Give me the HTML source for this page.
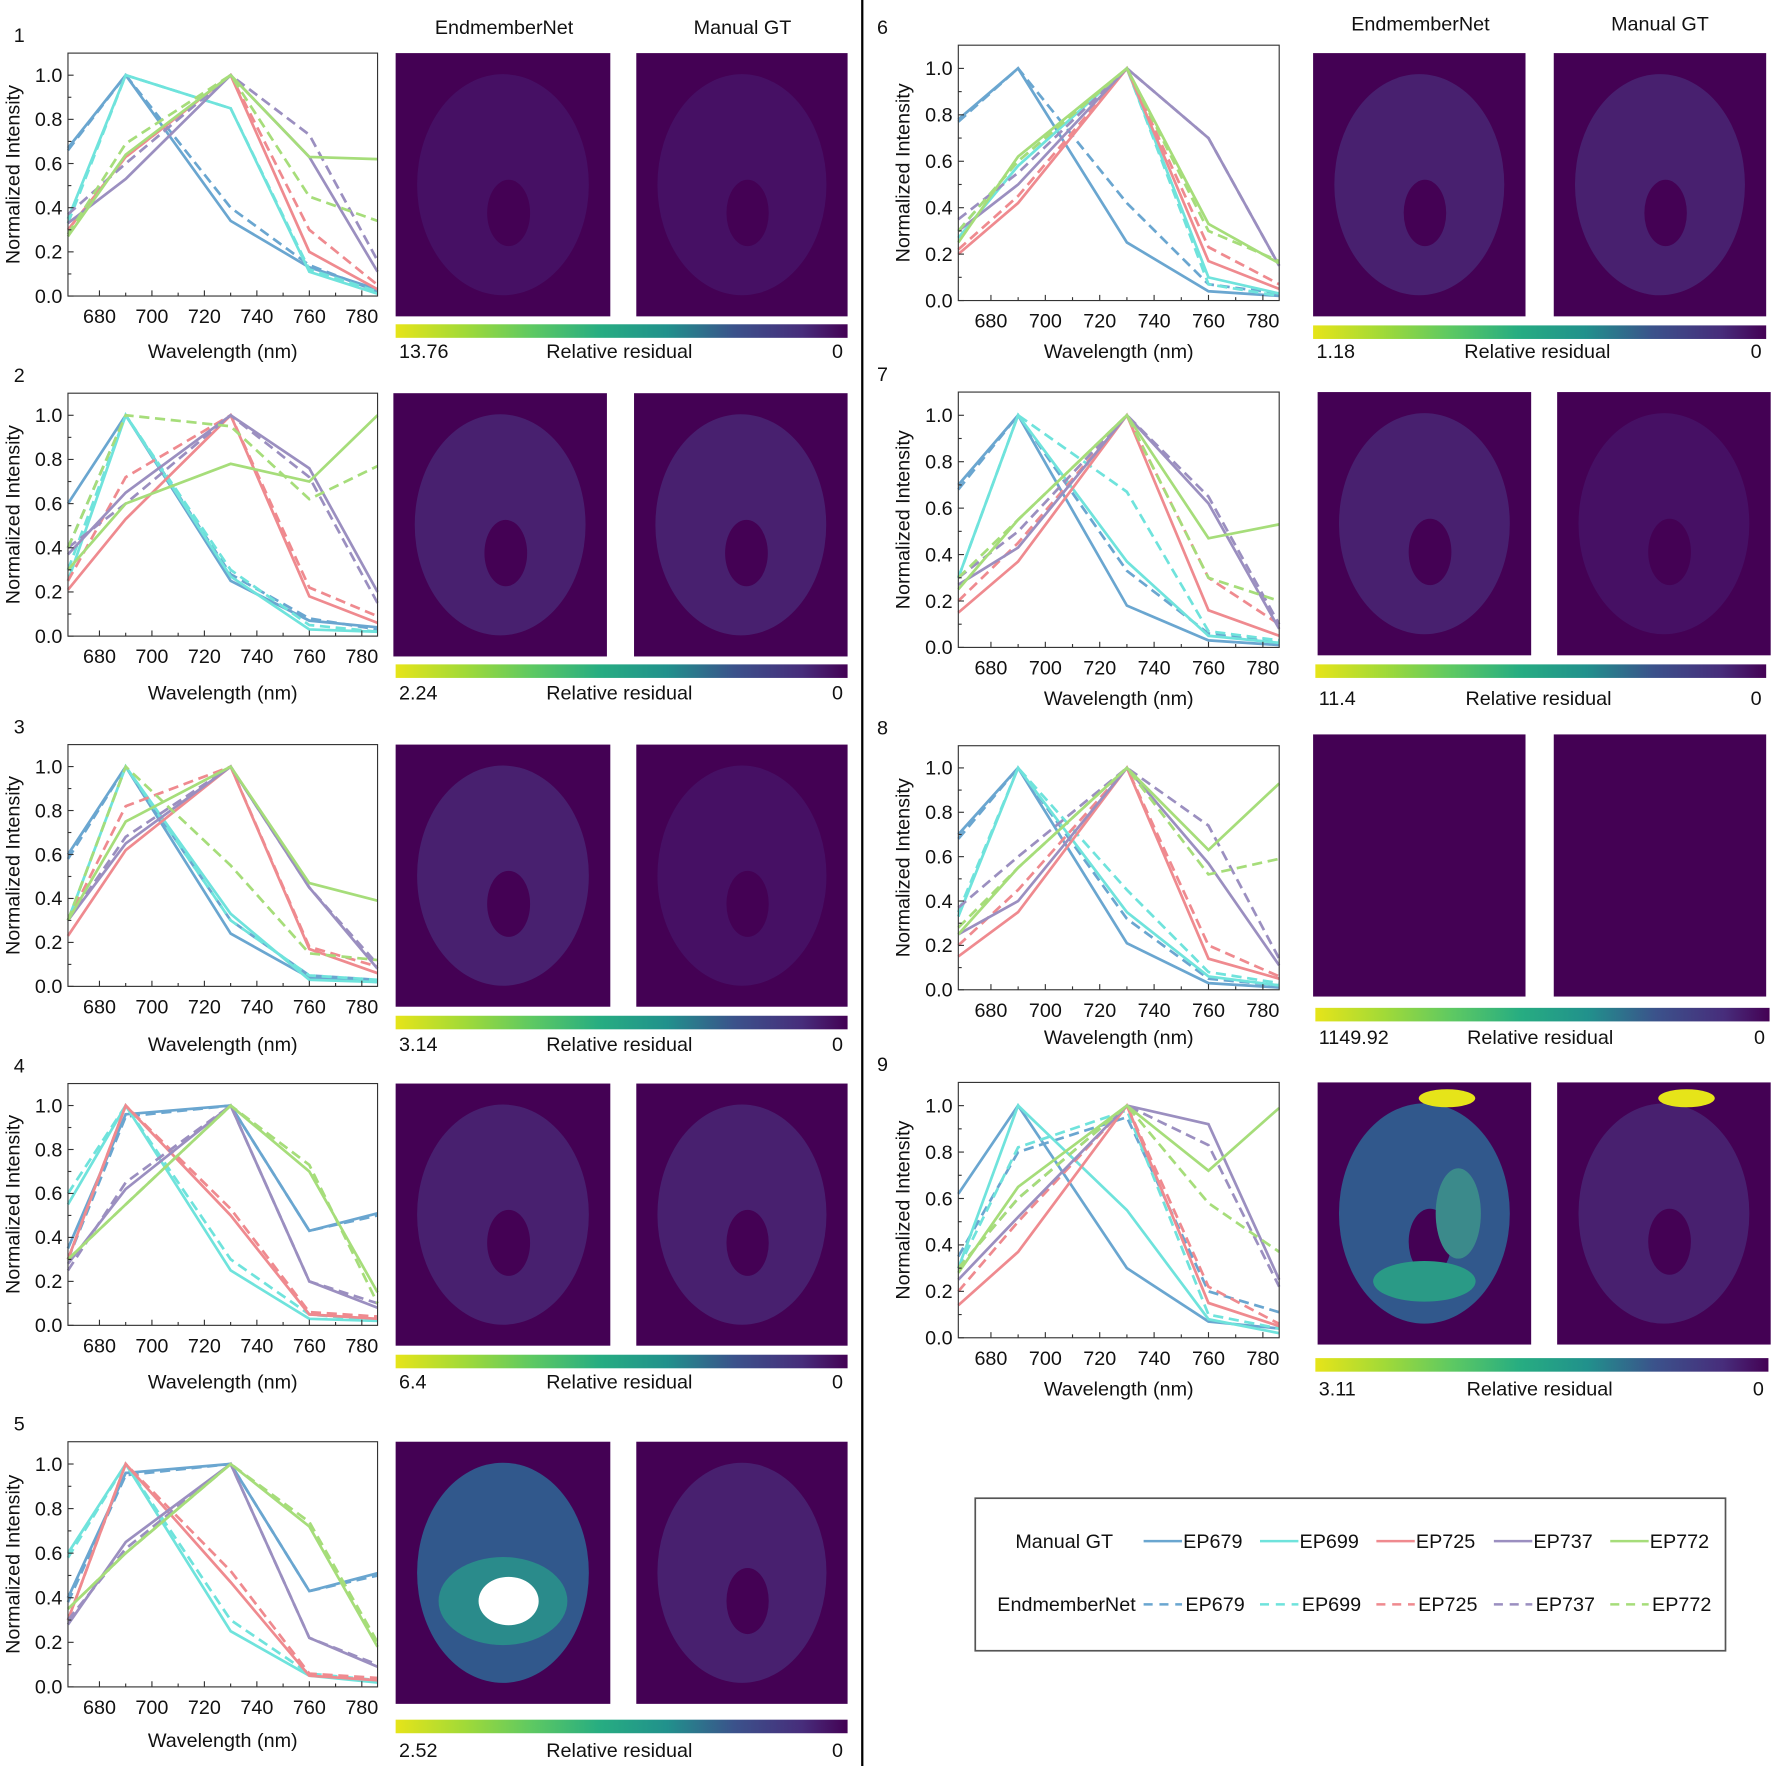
<!DOCTYPE html>
<html><head><meta charset="utf-8"><style>
html,body{margin:0;padding:0;background:#fff}
svg{display:block}
text{font-family:"Liberation Sans",Arial,sans-serif;fill:#111}
</style></head><body>
<svg id="s" xmlns="http://www.w3.org/2000/svg" width="1772" height="1766" viewBox="0 0 1568 1563">
<defs>
<linearGradient id="vir" x1="0" x2="1" y1="0" y2="0">
<stop offset="0" stop-color="#e6e419"/><stop offset="0.15" stop-color="#a2da37"/><stop offset="0.3" stop-color="#5ec962"/><stop offset="0.45" stop-color="#27ad81"/><stop offset="0.6" stop-color="#21918c"/><stop offset="0.75" stop-color="#3b528b"/><stop offset="0.9" stop-color="#472d7b"/><stop offset="1" stop-color="#440154"/>
</linearGradient>
</defs>
<rect width="1568" height="1563" fill="#fff"/>
<line x1="763" y1="0" x2="763" y2="1563" stroke="#000" stroke-width="2"/>
<g id="g"></g>
</svg>
<script>
const C=["#6aa6d0","#6fe3dc","#ef8a8f","#9b8fc0","#a6dd7a"];
const W=[668,690,730,760,786];
const P=[
{n:"1",x0:60,x1:334,t:47,b:262,ix:[350,540,563,750],it:47,ib:280,cb:287,cx:[350,750],lab:311,v:"13.76",
s:[[.67,1,.34,.13,.03],[.35,1,.85,.11,.01],[.3,.63,1,.2,.03],[.33,.53,1,.63,.11],[.27,.64,1,.63,.62]],
d:[[.66,1,.4,.14,.02],[.33,1,.85,.12,.02],[.3,.63,1,.3,.05],[.37,.6,1,.73,.16],[.28,.69,1,.45,.34]],lvl:[.05,.05]},
{n:"2",x0:60,x1:334,t:348,b:563,ix:[348,537,561,750],it:348,ib:581,cb:588,cx:[350,750],lab:613,v:"2.24",
s:[[.6,1,.25,.07,.04],[.25,1,.27,.03,.02],[.21,.53,1,.18,.06],[.37,.65,1,.76,.2],[.3,.6,.78,.7,1]],
d:[[.4,1,.28,.08,.03],[.3,1,.3,.05,.02],[.25,.72,1,.22,.09],[.4,.6,1,.72,.15],[.4,1,.95,.62,.77]],lvl:[.25,.2]},
{n:"3",x0:60,x1:334,t:659,b:873,ix:[350,540,563,750],it:659,ib:891,cb:899,cx:[350,750],lab:924,v:"3.14",
s:[[.6,1,.24,.04,.02],[.3,1,.33,.03,.02],[.23,.62,1,.17,.06],[.3,.65,1,.45,.08],[.3,.75,1,.47,.39]],
d:[[.58,1,.3,.05,.03],[.3,1,.3,.05,.03],[.3,.82,1,.18,.09],[.3,.68,1,.45,.1],[.3,1,.55,.15,.12]],lvl:[.2,.15]},
{n:"4",x0:60,x1:334,t:959,b:1173,ix:[350,540,563,750],it:959,ib:1191,cb:1199,cx:[350,750],lab:1223,v:"6.4",
s:[[.35,.96,1,.43,.51],[.55,1,.25,.03,.02],[.3,1,.5,.05,.03],[.28,.62,1,.2,.08],[.3,.55,1,.7,.15]],
d:[[.3,.95,1,.43,.5],[.6,1,.3,.05,.02],[.3,1,.53,.06,.04],[.25,.65,1,.2,.1],[.3,.55,1,.73,.1]],lvl:[.22,.2]},
{n:"5",x0:60,x1:334,t:1276,b:1493,ix:[350,540,563,750],it:1276,ib:1508,cb:1522,cx:[350,750],lab:1549,xl:1540,v:"2.52",
s:[[.4,.96,1,.43,.51],[.6,1,.25,.05,.02],[.3,1,.47,.05,.03],[.28,.65,1,.22,.09],[.35,.6,1,.72,.18]],
d:[[.38,.95,1,.43,.5],[.58,1,.3,.06,.03],[.3,1,.52,.06,.04],[.3,.62,1,.22,.1],[.35,.6,1,.74,.2]],lvl:[.6,.2]},
{n:"6",x0:848,x1:1132,t:40,b:266,ix:[1162,1350,1375,1563],it:47,ib:280,cb:288,cx:[1162,1563],lab:311,v:"1.18",
s:[[.78,1,.25,.04,.02],[.27,.58,1,.1,.03],[.2,.42,1,.17,.05],[.3,.5,1,.7,.15],[.25,.62,1,.33,.16]],
d:[[.77,1,.42,.07,.03],[.3,.6,1,.07,.02],[.22,.45,1,.23,.07],[.35,.55,1,.7,.15],[.3,.6,1,.3,.17]],lvl:[.18,.18]},
{n:"7",x0:848,x1:1132,t:347,b:573,ix:[1166,1355,1378,1567],it:347,ib:580,cb:588,cx:[1164,1563],lab:618,v:"11.4",
s:[[.7,1,.18,.03,.01],[.3,1,.37,.05,.02],[.15,.37,1,.16,.05],[.27,.43,1,.62,.08],[.25,.55,1,.47,.53]],
d:[[.68,1,.33,.06,.02],[.3,1,.67,.07,.03],[.2,.45,1,.3,.1],[.3,.5,1,.65,.1],[.3,.55,1,.3,.2]],lvl:[.18,.05]},
{n:"8",x0:848,x1:1132,t:660,b:876,ix:[1162,1350,1375,1563],it:650,ib:882,cb:892,cx:[1164,1566],lab:918,v:"1149.92",
s:[[.7,1,.21,.03,.01],[.33,1,.35,.06,.02],[.15,.35,1,.14,.05],[.25,.4,1,.57,.11],[.25,.55,1,.63,.93]],
d:[[.68,1,.32,.05,.02],[.35,1,.45,.08,.03],[.2,.45,1,.2,.06],[.37,.6,1,.74,.14],[.28,.55,1,.52,.59]],lvl:[0,0]},
{n:"9",x0:848,x1:1132,t:958,b:1184,ix:[1166,1355,1378,1567],it:958,ib:1190,cb:1202,cx:[1164,1565],lab:1229,v:"3.11",
s:[[.62,1,.3,.07,.04],[.3,1,.55,.08,.02],[.14,.37,1,.15,.05],[.25,.52,1,.92,.25],[.28,.65,1,.72,.99]],
d:[[.35,.8,.95,.2,.11],[.3,.82,.98,.1,.04],[.2,.5,1,.22,.06],[.3,.6,1,.83,.22],[.3,.6,1,.58,.37]],lvl:[.75,.2]}
];
let h="";
const FS=17.5;
P.forEach(p=>{
 const X=w=>p.x0+(w-668)/(786-668)*(p.x1-p.x0);
 const Y=v=>p.b-v/1.1*(p.b-p.t);
 const left=p.x0<500;
 h+=`<text x="${left?12:776}" y="${p.t-10}" font-size="${FS}">${p.n}</text>`;
 for(let k=0;k<5;k++){
  const sp=p.s[k].map((v,i)=>X(W[i]).toFixed(1)+","+Y(v).toFixed(1)).join(" ");
  const dp=p.d[k].map((v,i)=>X(W[i]).toFixed(1)+","+Y(v).toFixed(1)).join(" ");
  h+=`<polyline points="${dp}" fill="none" stroke="${C[k]}" stroke-width="2.4" stroke-dasharray="9,5"/>`;
  h+=`<polyline points="${sp}" fill="none" stroke="${C[k]}" stroke-width="2.4"/>`;
 }
 h+=`<rect x="${p.x0}" y="${p.t}" width="${p.x1-p.x0}" height="${p.b-p.t}" fill="none" stroke="#333" stroke-width="1"/>`;
 for(let w=680;w<=780;w+=20){const x=X(w);h+=`<line x1="${x}" y1="${p.b}" x2="${x}" y2="${p.b-5}" stroke="#333"/><text x="${x}" y="${p.b+24}" font-size="${FS}" text-anchor="middle">${w}</text>`;}
 for(let w=690;w<=770;w+=20){const x=X(w);h+=`<line x1="${x}" y1="${p.b}" x2="${x}" y2="${p.b-3}" stroke="#333"/>`;}
 for(let v=0;v<=10;v+=2){const y=Y(v/10);h+=`<line x1="${p.x0}" y1="${y}" x2="${p.x0+5}" y2="${y}" stroke="#333"/><text x="${p.x0-5}" y="${y+6}" font-size="${FS}" text-anchor="end">${(v/10).toFixed(1)}</text>`;}
 for(let v=1;v<=9;v+=2){const y=Y(v/10);h+=`<line x1="${p.x0}" y1="${y}" x2="${p.x0+3}" y2="${y}" stroke="#333"/>`;}
 const cy=(p.t+p.b)/2;
 h+=`<text transform="translate(${p.x0-43},${cy}) rotate(-90)" font-size="${FS}" text-anchor="middle">Normalized Intensity</text>`;
 h+=`<text x="${(p.x0+p.x1)/2}" y="${(p.xl||p.lab)+6}" font-size="${FS}" text-anchor="middle">Wavelength (nm)</text>`;
 [[p.ix[0],p.ix[1],p.lvl[0],0],[p.ix[2],p.ix[3],p.lvl[1],1]].forEach(([a,b,l,j])=>{
  h+=`<rect x="${a}" y="${p.it}" width="${b-a}" height="${p.ib-p.it}" fill="#440154"/>`;
  if(l>0){
   const cx=(a+b)/2, cyy=(p.it+p.ib)/2, rw=(b-a)*0.4, rh=(p.ib-p.it)*0.42;
   const col=l>0.5?"#31588c":(l>0.15?"#48206f":"#461064");
   h+=`<ellipse cx="${cx}" cy="${cyy}" rx="${rw}" ry="${rh}" fill="${col}"/>`;
   h+=`<ellipse cx="${cx+5}" cy="${cyy+25}" rx="${rw*0.25}" ry="${rh*0.3}" fill="#440154"/>`;
   if(p.n==="5"&&j===0){h+=`<ellipse cx="${cx}" cy="${cyy+25}" rx="${rw*0.75}" ry="${rh*0.4}" fill="#2a8b8b"/><ellipse cx="${cx+5}" cy="${cyy+25}" rx="${rw*0.35}" ry="${rh*0.22}" fill="#fff"/>`;}
   if(p.n==="9"){h+=`<ellipse cx="${cx+20}" cy="${p.it+14}" rx="25" ry="8" fill="#e6e419"/>`; if(j===0)h+=`<ellipse cx="${cx}" cy="${cyy+60}" rx="${rw*0.6}" ry="18" fill="#2a9a86"/><ellipse cx="${cx+30}" cy="${cyy}" rx="20" ry="40" fill="#3b8a8b"/>`;}
  }
 });
 h+=`<rect x="${p.cx[0]}" y="${p.cb}" width="${p.cx[1]-p.cx[0]}" height="12" fill="url(#vir)"/>`;
 h+=`<text x="${p.cx[0]+3}" y="${p.lab+6}" font-size="${FS}">${p.v}</text>`;
 h+=`<text x="${(p.cx[0]+p.cx[1])/2-2}" y="${p.lab+6}" font-size="${FS}" text-anchor="middle">Relative residual</text>`;
 h+=`<text x="${p.cx[1]-4}" y="${p.lab+6}" font-size="${FS}" text-anchor="end">0</text>`;
});
h+=`<text x="446" y="30" font-size="${FS}" text-anchor="middle">EndmemberNet</text><text x="657" y="30" font-size="${FS}" text-anchor="middle">Manual GT</text>`;
h+=`<text x="1257" y="27" font-size="${FS}" text-anchor="middle">EndmemberNet</text><text x="1469" y="27" font-size="${FS}" text-anchor="middle">Manual GT</text>`;
h+=`<rect x="863" y="1326" width="664" height="135" fill="#fff" stroke="#555" stroke-width="1.5"/>`;
h+=`<text x="985" y="1370" font-size="${FS}" text-anchor="end">Manual GT</text><text x="1005" y="1426" font-size="${FS}" text-anchor="end">EndmemberNet</text>`;
const names=["EP679","EP699","EP725","EP737","EP772"],lx=[1012,1115,1218,1322,1425];
for(let k=0;k<5;k++){
 h+=`<line x1="${lx[k]}" y1="1364" x2="${lx[k]+34}" y2="1364" stroke="${C[k]}" stroke-width="2.2"/><text x="${lx[k]+35}" y="1370" font-size="${FS}">${names[k]}</text>`;
 h+=`<line x1="${lx[k]}" y1="1420" x2="${lx[k]+34}" y2="1420" stroke="${C[k]}" stroke-width="2.2" stroke-dasharray="8,6"/><text x="${lx[k]+37}" y="1426" font-size="${FS}">${names[k]}</text>`;
}
document.getElementById("g").innerHTML=h;
</script>
</body></html>
